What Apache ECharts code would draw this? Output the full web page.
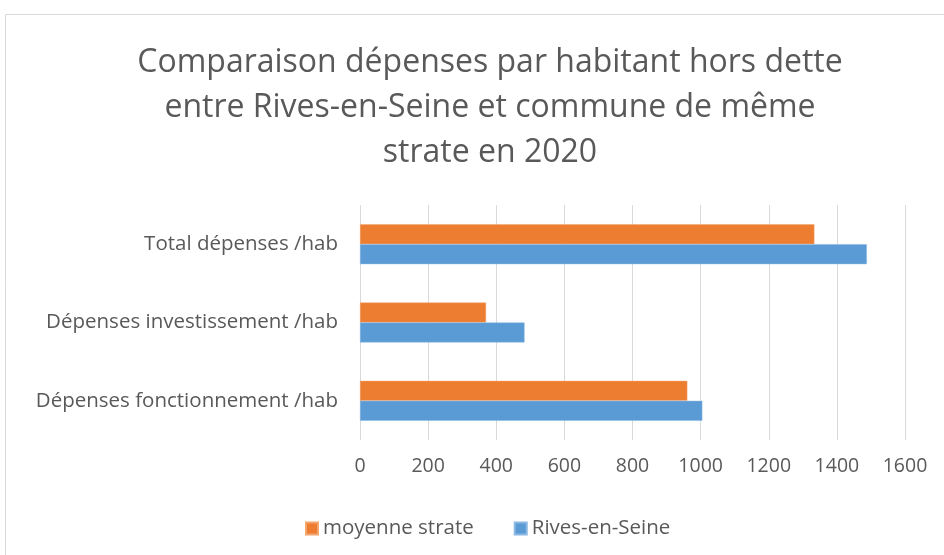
<!DOCTYPE html>
<html>
<head>
<meta charset="utf-8">
<script src="https://cdn.jsdelivr.net/npm/echarts@6/dist/echarts.min.js"></script>
<style>
  html, body { margin: 0; padding: 0; background: #fff; }
  #chart { width: 944px; height: 555px; }
</style>
</head>
<body>
<div id="chart"></div>
<script>
const categories = ['Dépenses fonctionnement /hab', 'Dépenses investissement /hab', 'Total dépenses /hab']
const rivesEnSeine = [1005, 483, 1488]
const moyenneStrate = [961, 370, 1334]
const xTicks = { min: 0, max: 1600, interval: 200 }

const chart = echarts.init(document.getElementById('chart'))
const font = '"Open Sans", "Noto Sans", sans-serif'
const grey = '#595959'

chart.setOption({
  animation: false,
  textStyle: { fontFamily: font },
  title: {
    text: 'Comparaison dépenses par habitant hors dette\nentre Rives-en-Seine et commune de même\nstrate en 2020',
    left: 485,
    top: 35,
    textAlign: 'center',
    textStyle: { color: grey, fontSize: 32, fontWeight: 'normal', lineHeight: 45, fontFamily: font },
  },
  graphic: [
    {
      type: 'rect',
      shape: { x: 5.5, y: 14.5, width: 1000, height: 1000 },
      style: { fill: 'none', stroke: '#d9d9d9', lineWidth: 1 },
      silent: true,
    },
  ],
  legend: {
    data: ['moyenne strate', 'Rives-en-Seine'],
    left: 300,
    top: 513,
    icon: 'rect',
    itemWidth: 12,
    itemHeight: 12,
    itemGap: 40,
    textStyle: { color: grey, fontSize: 20.5, fontFamily: font },
  },
  grid: { left: 360, right: 39, top: 205, bottom: 115, containLabel: false },
  xAxis: {
    type: 'value',
    min: xTicks.min,
    max: xTicks.max,
    interval: xTicks.interval,
    axisLine: { show: false },
    axisTick: { show: false },
    splitLine: { lineStyle: { color: '#d9d9d9', width: 1 } },
    axisLabel: { color: grey, fontSize: 19.5, margin: 16, fontFamily: font, formatter: v => String(v) },
  },
  yAxis: {
    type: 'category',
    data: categories,
    axisLine: { show: false },
    axisTick: { show: false },
    axisLabel: { color: grey, fontSize: 20.5, margin: 22, fontFamily: font },
  },
  series: [
    {
      name: 'moyenne strate',
      type: 'bar',
      data: moyenneStrate,
      barGap: '0%',
      barCategoryGap: '49%',
      itemStyle: { color: '#ED7D31', borderColor: '#f3a66f', borderWidth: 0.5 },
    },
    {
      name: 'Rives-en-Seine',
      type: 'bar',
      data: rivesEnSeine,
      barGap: '0%',
      barCategoryGap: '49%',
      itemStyle: { color: '#5B9BD5', borderColor: '#8bb8e2', borderWidth: 0.5 },
    },
  ],
})
</script>
</body>
</html>
